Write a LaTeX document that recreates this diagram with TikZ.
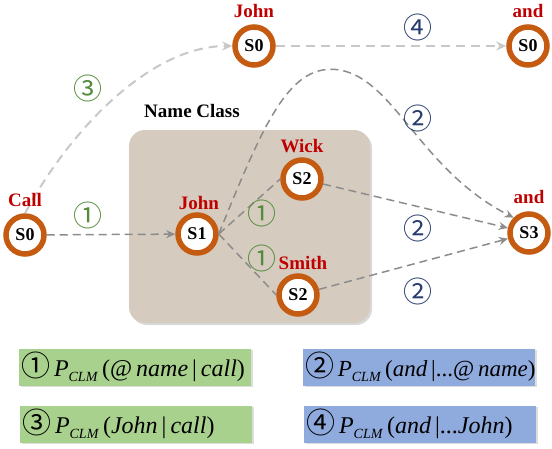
\documentclass[tikz,border=0pt]{standalone}
\usepackage{fontspec}
\setmainfont{Liberation Serif}
\newfontfamily\cnumfont{Noto Sans CJK SC}
\usetikzlibrary{arrows.meta,shadows}
\definecolor{ringc}{RGB}{197,90,17}
\definecolor{redlab}{RGB}{192,0,0}
\definecolor{numgreen}{RGB}{84,140,60}
\definecolor{numblue}{RGB}{40,60,110}
\definecolor{tanfill}{RGB}{214,203,191}
\definecolor{greenbox}{RGB}{169,209,142}
\definecolor{bluebox}{RGB}{143,170,220}
\definecolor{dashdark}{RGB}{140,140,140}
\definecolor{dashlight}{RGB}{200,200,200}
\tikzset{
  state/.style={circle, draw=ringc, line width=5.5pt, fill=white, minimum size=38pt, inner sep=0pt, font=\fontsize{18}{18}\selectfont\bfseries},
  wlabel/.style={text=redlab, font=\fontsize{19}{19}\selectfont\bfseries, inner sep=0pt},
  gnum/.style={text=numgreen, font=\cnumfont\fontsize{29}{29}\selectfont, inner sep=0pt},
  bnum/.style={text=numblue, font=\cnumfont\fontsize{29}{29}\selectfont, inner sep=0pt},
  darkedge/.style={draw=dashdark, line width=1.5pt, dash pattern=on 8pt off 5pt, -{Stealth[length=9pt,width=8pt]}},
  lightedge/.style={draw=dashlight, line width=2pt, dash pattern=on 9pt off 6pt, -{Stealth[length=10pt,width=9pt]}},
  plainedge/.style={draw=dashdark, line width=1.5pt, dash pattern=on 8pt off 5pt},
  formbox/.style={minimum height=37pt, inner xsep=2pt, inner ysep=0pt, text width=228pt, align=left, font=\fontsize{24}{24}\selectfont,
    drop shadow={shadow xshift=1.5pt, shadow yshift=-1.5pt, opacity=0.22, fill=black!60}}
}
\newcommand{\cn}[1]{{\cnumfont\fontsize{29}{29}\selectfont #1}}
\newcommand{\pclm}{\textit{P}\raisebox{-0.4ex}{\fontsize{14}{14}\selectfont\textit{CLM}}}
\begin{document}
\begin{tikzpicture}[x=1pt,y=-1pt]
\useasboundingbox (0,0) rectangle (552,448);
% name class box
\node[fill=tanfill, rounded corners=16pt, minimum width=241pt, minimum height=193pt,
  drop shadow={shadow xshift=2pt, shadow yshift=-2pt, opacity=0.25, fill=black!60}] (nameclass) at (249.5,226.5) {};
\node[font=\fontsize{19}{19}\selectfont\bfseries, inner sep=0pt] (nctitle) at (192,111) {Name Class};

% states
\node[state] (call) at (25,235) {S0};
\node[state] (johntop) at (254,46) {S0};
\node[state] (andtop) at (528,46) {S0};
\node[state] (s1) at (197,234) {S1};
\node[state] (wick) at (302,179) {S2};
\node[state] (smith) at (298,295) {S2};
\node[state] (s3) at (529,233) {S3};

% edges
\draw[lightedge] (call.north) .. controls (70,130) and (150,46) .. (johntop.west);
\draw[lightedge] (johntop.east) -- (andtop.west);
\draw[darkedge] (call) -- (s1);
\draw[plainedge] (s1.east) -- (wick.west);
\draw[plainedge] (s1.east) -- (smith.west);
\draw[darkedge] (s1.east) .. controls (265,120) and (290,62) .. (340,70)
   .. controls (395,80) and (420,170) .. (s3.north west);
\draw[darkedge] (wick) -- (s3);
\draw[darkedge] (smith) -- (s3);

% word labels
\node[wlabel] (lcall) at (25,200) {Call};
\node[wlabel] (ljohntop) at (254,11) {John};
\node[wlabel] (landtop) at (528,11) {and};
\node[wlabel] (ljohn) at (199,203) {John};
\node[wlabel] (lwick) at (302,146) {Wick};
\node[wlabel] (lsmith) at (303,263) {Smith};
\node[wlabel] (land) at (529,197) {and};

% circled numbers
\node[gnum] (n3) at (88,88) {③};
\node[bnum] (n4) at (418,27) {④};
\node[bnum] (n2a) at (418,118) {②};
\node[gnum] (n1a) at (88,215) {①};
\node[gnum] (n1b) at (262,213) {①};
\node[gnum] (n1c) at (262,258) {①};
\node[bnum] (n2b) at (418,228) {②};
\node[bnum] (n2c) at (418,291) {②};

% formula boxes
\node[formbox, fill=greenbox] (f1) at (135,367) {\cn{①}\,\pclm\,(@\,\textit{name}\,|\,\textit{call})};
\node[formbox, fill=greenbox] (f3) at (136,424) {\cn{③}\,\pclm\,(\textit{John}\,|\,\textit{call})};
\node[formbox, fill=bluebox, font=\fontsize{23}{23}\selectfont] (f2) at (419,367) {\cn{②}\,\pclm\,(\textit{and}\,|...@\,\textit{name})};
\node[formbox, fill=bluebox] (f4) at (420,424) {\cn{④}\,\pclm\,(\textit{and}\,|...\textit{John})};
\end{tikzpicture}
\end{document}
